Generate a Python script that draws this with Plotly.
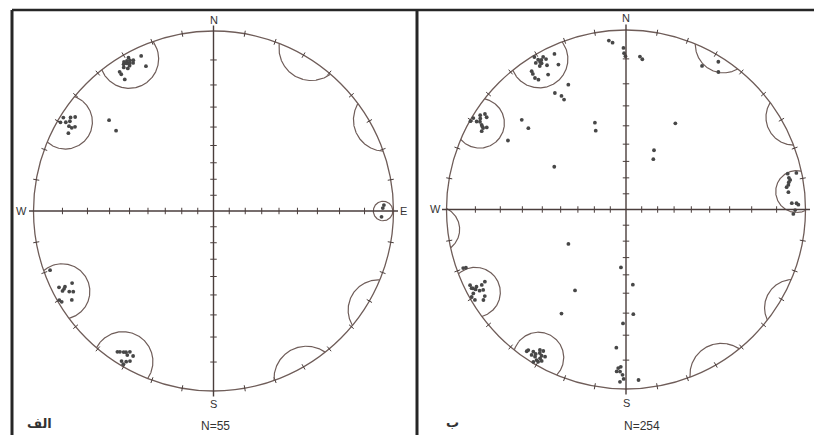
import numpy as np
import plotly.graph_objects as go

# ---------------- DATA ----------------
# Poles (trend, plunge in degrees) - left net (N=55)
LEFT_TREND = [329, 330, 331, 328, 330, 332, 329, 331, 330, 328.5, 331.5, 329.5, 330.5,
              335, 335, 326, 326, 326,
              311, 309.5,
              301.9, 300.1, 303.2, 304.2, 300.4, 300.4, 301.3, 298.2, 301, 302,
              250.1, 243.7, 243, 243, 242.1, 240.8, 240.1, 240, 239.1, 237.9, 242.5,
              214.3, 213.6, 211.8, 210.7, 210.9, 211.5, 210.1, 209.1, 210.5, 209, 212.5,
              88, 92, 89]
LEFT_PLUNGE = [2, 3, 2.5, 3.5, 4, 3, 4.5, 1.5, 2.2, 2.6, 3.8, 2.8, 3.3,
               2.9, 6.8, 4, 5, 7.2,
               14.9, 19.9,
               1, 1, 3, 4.2, 4.1, 5.2, 6, 5.1, 2.5, 3.5,
               2, 2.5, 4.4, 7.2, 3, 4.9, 6.1, 0.6, 1, 4.2, 3.8,
               3.1, 3.6, 4.6, 5.4, 4, 1.3, 1.9, 2.7, 0.7, 4.7, 4.2,
               3.1, 3.9, 3.5]

# Poles - right net (N=254, many coincident)
RIGHT_TREND = [329.6, 329, 331.3, 329.8, 331.5, 328.4, 330, 330.5, 329, 332,
               335.3, 335, 330, 325.7, 325.3, 326, 325.5, 335.2, 328.6, 330.4, 330.6,
               354.2, 355.4, 359.1, 359.3, 359.8, 5.2, 6.2,
               300.9, 299.6, 302.9, 304.1, 303.5, 300.5, 300.4, 299.7, 298.5, 300.5, 301, 302, 300,
               310.7, 309.8, 300.3, 300.8, 340.3, 339,
               29.8, 25.3, 28.5,
               32, 27.9, 33.9,
               77.5, 77.9, 79.8, 81.4, 82.1, 83.9, 87.8, 87.9, 88.4, 90.2, 91.5, 79, 80.5,
               250.2, 250, 244.1, 242.7, 242.7, 242.4, 242.9, 240.6, 238.5, 241.2, 239.1, 240.5, 237.6, 242, 241, 243,
               214.8, 215, 213.1, 211.5, 210.3, 211.7, 210, 208.8, 210.7, 211.3, 210, 209.1, 212, 211, 213, 210,
               239.1, 212.2, 211.8, 185, 174.8, 176, 181.5, 184, 182.8, 181.9, 182.1, 181.2, 180.8, 182, 175.8, 183.3]
RIGHT_PLUNGE = [1.9, 0.5, 5, 2.9, 1.9, 2.4, 3.5, 2.5, 4, 3,
                2.7, 6.6, 8.1, 4.0, 6.6, 7.8, 5.0, 15.1, 15.5, 17.9, 19.8,
                3.2, 4.0, 6.0, 7.9, 9.0, 8.9, 9.8,
                0.5, 0.2, 1.9, 3.0, 4.1, 2.0, 4.0, 5.0, 5.1, 6.0, 3, 2.5, 4.5,
                15.1, 19.4, 15.4, 40.1, 35.6, 39.6,
                32.1, 49.9, 54.6,
                1.7, 5.7, 4.6,
                4.6, 1.7, 4.2, 5.1, 5.8, 5.4, 4.5, 2.9, 2.3, 3.4, 4.0, 4.5, 4.8,
                2.1, 3.0, 2.0, 2.4, 3.7, 5.6, 7.1, 5.2, 4.6, 1.7, 1.1, 0.7, 3.5, 3, 4, 2,
                2.7, 2.1, 3.2, 4.9, 5.2, 2.1, 2.5, 3.8, 1.4, 0.4, 1.2, 2.0, 3, 4, 2, 3.5,
                49, 33.9, 21.4, 54.1, 44.4, 29.4, 25.2, 14.7, 7.0, 7.5, 5.8, 4.7, 3.3, 2.3, 2.8, 5.8]

# Cones (trend, plunge, half-angle) around the pole clusters
LEFT_CONE_TREND = [331, 301, 242, 211, 90]
LEFT_CONE_PLUNGE = [2.75, 3, 3.5, 2.2, 3.5]
LEFT_CONE_ALPHA = [9.75, 9, 9.3, 9.8, 3.3]

RIGHT_CONE_TREND = [330, 300.5, 241.2, 210.6, 84]
RIGHT_CONE_PLUNGE = [2.7, 3.7, 3.05, 3.05, 3.0]
RIGHT_CONE_ALPHA = [9.5, 8.4, 8.35, 8.45, 7.0]

N_LABELS = ["N=55", "N=254"]
PANEL_LABELS = ["الف", "ب"]
DIRS = ["N", "E", "S", "W"]

# ---------------- helpers ----------------
def project(trend, plunge):
    t = np.radians(np.asarray(trend, float))
    p = np.radians(np.asarray(plunge, float))
    r = np.tan(np.pi / 4 - p / 2)
    return r * np.sin(t), r * np.cos(t)


def cone(trend, plunge, alpha, n=720):
    t, p, a = np.radians(trend), np.radians(plunge), np.radians(alpha)
    v = np.array([np.cos(p) * np.sin(t), np.cos(p) * np.cos(t), np.sin(p)])
    tmp = np.array([0, 0, 1.0]) if abs(v[2]) < 0.9 else np.array([1.0, 0, 0])
    u = np.cross(v, tmp); u /= np.linalg.norm(u)
    w = np.cross(v, u)
    phi = np.linspace(0, 2 * np.pi, n)
    pts = (np.cos(a) * v[:, None] + np.sin(a) * (np.cos(phi) * u[:, None] + np.sin(phi) * w[:, None]))
    xs, ys = [], []
    prev = None
    for k in range(n):
        x, y, z = pts[:, k]
        up = z < 0
        if up:
            x, y, z = -x, -y, -z
        if prev is not None and up != prev:
            xs.append(None); ys.append(None)
        prev = up
        xs.append(x / (1 + z)); ys.append(y / (1 + z))
    return xs, ys


LINE_C = "#6f5d59"
AXIS_C = "#4a3e3c"
DOT_C = "#474747"

fig = go.Figure()

panels = [
    dict(xa="x", ya="y", xd=[15.5 / 814, 411.5 / 814], yd=[26 / 435, 422 / 435], xr=[-1.1, 1.1],
         trend=LEFT_TREND, plunge=LEFT_PLUNGE,
         ct=LEFT_CONE_TREND, cp=LEFT_CONE_PLUNGE, ca=LEFT_CONE_ALPHA,
         lab={"N": (0, 1.061), "E": (1.058, 0), "S": (0, -1.072), "W": (-1.064, 0)}),
    dict(xa="x2", ya="y2", xd=[428.55 / 814, 812.68 / 814], yd=[28.05 / 435, 422.95 / 435], xr=[-1.1, 1.04],
         trend=RIGHT_TREND, plunge=RIGHT_PLUNGE,
         ct=RIGHT_CONE_TREND, cp=RIGHT_CONE_PLUNGE, ca=RIGHT_CONE_ALPHA,
         lab={"N": (0, 1.067), "E": (1.062, 0), "S": (0, -1.08), "W": (-1.064, 0)}),
]

shapes = []
annotations = []
for i, P in enumerate(panels):
    xa, ya = P["xa"], P["ya"]
    shapes.append(dict(type="circle", xref=xa, yref=ya, x0=-1, y0=-1, x1=1, y1=1,
                       line=dict(color=LINE_C, width=1.3), layer="below"))
    shapes.append(dict(type="line", xref=xa, yref=ya, x0=-1.025, y0=0, x1=1.025, y1=0,
                       line=dict(color=AXIS_C, width=1.4)))
    shapes.append(dict(type="line", xref=xa, yref=ya, x0=0, y0=-1.03, x1=0, y1=1.03,
                       line=dict(color=AXIS_C, width=1.4)))
    tx, ty = [], []
    for k in range(1, 9):
        d = np.tan(np.radians(5 * k))
        for s in (-1, 1):
            tx += [s * d, s * d, None]; ty += [-0.018, 0.018, None]
            tx += [-0.018, 0.018, None]; ty += [s * d, s * d, None]
    for az in range(0, 360, 10):
        if az % 90 == 0:
            continue
        a = np.radians(az)
        tx += [0.983 * np.sin(a), 1.017 * np.sin(a), None]
        ty += [0.983 * np.cos(a), 1.017 * np.cos(a), None]
    fig.add_trace(go.Scatter(x=tx, y=ty, mode="lines", line=dict(color=AXIS_C, width=1),
                             xaxis=xa, yaxis=ya, hoverinfo="skip", showlegend=False))
    for t, p, a in zip(P["ct"], P["cp"], P["ca"]):
        cx, cy = cone(t, p, a)
        fig.add_trace(go.Scatter(x=cx, y=cy, mode="lines", line=dict(color=LINE_C, width=1.2),
                                 xaxis=xa, yaxis=ya, hoverinfo="skip", showlegend=False))
    px, py = project(P["trend"], P["plunge"])
    fig.add_trace(go.Scatter(x=px, y=py, mode="markers",
                             marker=dict(size=3.8, color=DOT_C, line=dict(width=0)),
                             xaxis=xa, yaxis=ya, showlegend=False, cliponaxis=False))
    for d in DIRS:
        lx, ly = P["lab"][d]
        annotations.append(dict(x=lx, y=ly, xref=xa, yref=ya, text=d, showarrow=False,
                                xanchor="center", yanchor="middle",
                                font=dict(family="Liberation Sans, Arial, sans-serif", size=11, color="#333")))

axis_common = dict(visible=False, showgrid=False, zeroline=False, fixedrange=True)
fig.update_layout(
    width=814, height=435, autosize=False,
    margin=dict(l=0, r=0, t=0, b=0, pad=0),
    paper_bgcolor="white", plot_bgcolor="rgba(0,0,0,0)",
    xaxis=dict(domain=panels[0]["xd"], range=panels[0]["xr"], **axis_common),
    yaxis=dict(domain=panels[0]["yd"], range=[-1.1, 1.1], **axis_common),
    xaxis2=dict(domain=panels[1]["xd"], range=panels[1]["xr"], **axis_common),
    yaxis2=dict(domain=panels[1]["yd"], range=[-1.1, 1.1], **axis_common),
    showlegend=False,
)

txt_font = dict(family="Liberation Sans, Arial, sans-serif", size=12, color="#333")
ar_font = dict(family="DejaVu Sans, sans-serif", size=13, color="#333", weight="bold")
annotations.append(dict(x=215 / 814, y=9 / 435, xref="paper", yref="paper", text=N_LABELS[0],
                        showarrow=False, xanchor="center", yanchor="middle", font=txt_font))
annotations.append(dict(x=642 / 814, y=9 / 435, xref="paper", yref="paper", text=N_LABELS[1],
                        showarrow=False, xanchor="center", yanchor="middle", font=txt_font))
annotations.append(dict(x=39 / 814, y=12 / 435, xref="paper", yref="paper", text=PANEL_LABELS[0],
                        showarrow=False, xanchor="center", yanchor="middle", font=ar_font))
annotations.append(dict(x=452 / 814, y=13 / 435, xref="paper", yref="paper", text=PANEL_LABELS[1],
                        showarrow=False, xanchor="center", yanchor="middle", font=ar_font))

FR = "#262626"
shapes.append(dict(type="line", xref="paper", yref="paper", x0=12 / 814, x1=12 / 814, y0=0, y1=425 / 435,
                   line=dict(color=FR, width=3)))
shapes.append(dict(type="line", xref="paper", yref="paper", x0=12 / 814, x1=1, y0=425 / 435, y1=425 / 435,
                   line=dict(color=FR, width=2.5)))
shapes.append(dict(type="line", xref="paper", yref="paper", x0=417 / 814, x1=417 / 814, y0=0, y1=425 / 435,
                   line=dict(color=FR, width=3)))

fig.update_layout(shapes=shapes, annotations=annotations)
fig.write_html("out.html", config={"displayModeBar": False},
               post_script="document.body.style.margin='0';document.body.style.overflow='hidden';")
